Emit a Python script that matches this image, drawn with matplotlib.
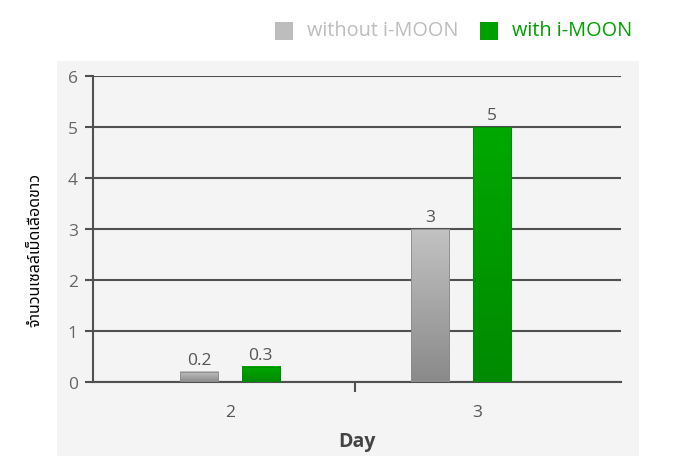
import matplotlib
matplotlib.use('Agg')
import matplotlib.pyplot as plt
import matplotlib.colors as mc
from matplotlib.patches import Rectangle
import numpy as np

# data
days = ['2', '3']
without_moon = [0.2, 3]
with_moon = [0.3, 5]
value_labels_without = ['0.2', '3']
value_labels_with = ['0.3', '5']
series_names = ['without i-MOON', 'with i-MOON']
y_label = 'จำนวนเซลล์เม็ดเลือดขาว'
x_label = 'Day'

plt.rcParams['font.family'] = ['Open Sans', 'DejaVu Sans']

W, H = 681, 464
fig = plt.figure(figsize=(W / 100, H / 100), dpi=100)

# light grey panel behind the chart
fig.patches.append(Rectangle((57 / W, 1 - 457 / H), (639 - 57) / W, (457 - 62) / H,
                             transform=fig.transFigure, facecolor='#f4f4f4',
                             edgecolor='none', zorder=-1))

ax = fig.add_axes([93 / W, 81 / H, (621 - 93) / W, 306 / H])
ax.set_facecolor('none')


def gradient_bar(ax, x, h, width, top, bottom):
    # vertical gradient inside a bar
    cmap = mc.LinearSegmentedColormap.from_list('g', [bottom, top])
    grad = np.linspace(0, 1, 64).reshape(-1, 1)
    ax.imshow(grad, cmap=cmap, origin='lower', aspect='auto',
              extent=(x - width / 2, x + width / 2, 0, h), zorder=3)
    ax.add_patch(Rectangle((x - width / 2, 0), width, h, facecolor='none',
                           edgecolor=bottom, linewidth=0.6, zorder=4))


x = np.arange(len(days))
width = 0.165
off = 0.133
for i in range(len(days)):
    gradient_bar(ax, x[i] - off, without_moon[i], width, '#c2c2c2', '#8a8a8a')
    gradient_bar(ax, x[i] + off, with_moon[i], width, '#00a800', '#008a00')
    ax.text(x[i] - off, without_moon[i] + 0.08, value_labels_without[i], ha='center',
            va='bottom', fontsize=12.5, color='#555555', zorder=5)
    ax.text(x[i] + off, with_moon[i] + 0.08, value_labels_with[i], ha='center',
            va='bottom', fontsize=12.5, color='#555555', zorder=5)

ax.set_xlim(-0.593, 1.693)
ax.set_ylim(0, 6)
ax.set_yticks(range(0, 7))
ax.yaxis.grid(True, color='#505050', linewidth=1.5, zorder=1)
ax.set_axisbelow(True)

ax.set_xticks([0, 1.07])
ax.set_xticklabels(days)
ax.set_xticks([0.54], minor=True)
ax.tick_params(axis='x', which='major', length=0, pad=16, labelsize=12.5, labelcolor='#555555')
ax.tick_params(axis='x', which='minor', length=7, width=1.5, color='#505050')
ax.tick_params(axis='y', length=6, width=1.5, color='#505050', pad=5,
               labelsize=12.5, labelcolor='#666666')

for s in ['top', 'right']:
    ax.spines[s].set_visible(False)
for s in ['left', 'bottom']:
    ax.spines[s].set_color('#505050')
    ax.spines[s].set_linewidth(1.5)

ax.set_xlabel(x_label, fontsize=14, fontweight='bold', color='#444444', labelpad=8)
fig.text(35 / W, 1 - 250 / H, y_label, rotation=90, ha='center', va='center',
         fontsize=11.5, color='#000000',
         family=['Noto Sans Thai', 'Tahoma', 'Loma', 'Garuda', 'Norasi', 'DejaVu Sans'])

# legend above the panel
fig.patches.append(Rectangle((275 / W, 1 - 41 / H), 18 / W, 18 / H, transform=fig.transFigure,
                             facecolor='#bdbdbd', edgecolor='none'))
fig.text(307 / W, 1 - 31 / H, series_names[0], ha='left', va='center', fontsize=14.3,
         color='#bdbdbd')
fig.patches.append(Rectangle((480 / W, 1 - 41 / H), 18 / W, 18 / H, transform=fig.transFigure,
                             facecolor='#00a000', edgecolor='none'))
fig.text(512 / W, 1 - 31 / H, series_names[1], ha='left', va='center', fontsize=14.3,
         color='#00a000')

fig.savefig('out.png', dpi=100)
